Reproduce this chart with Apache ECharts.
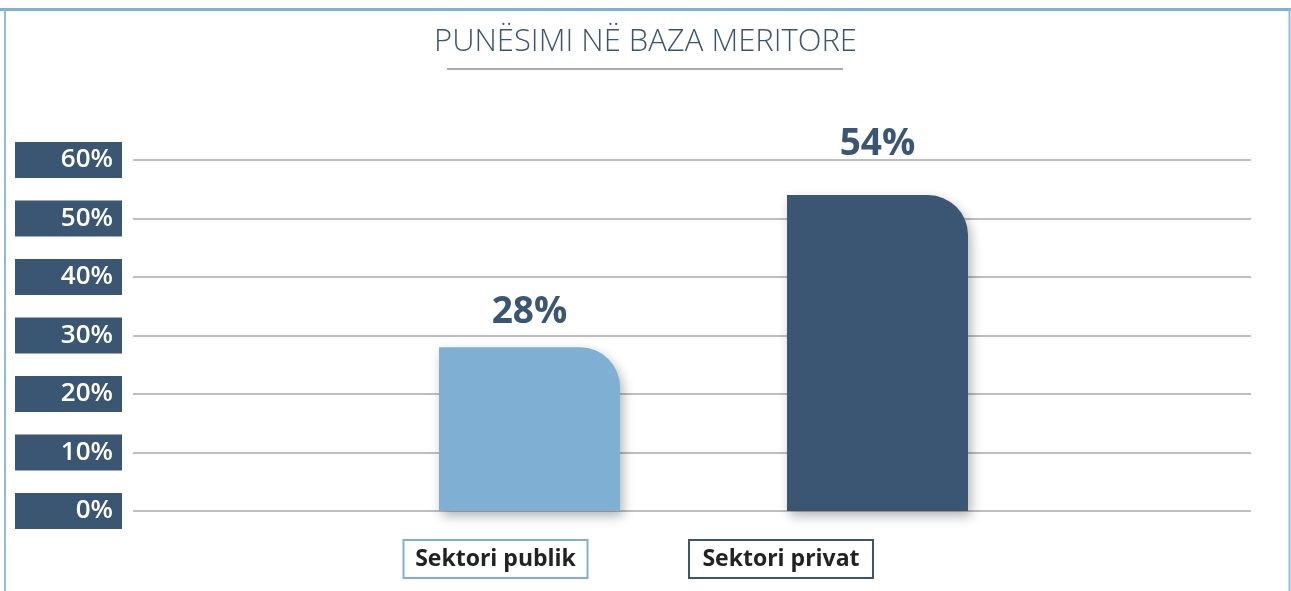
<!DOCTYPE html>
<html>
<head>
<meta charset="utf-8">
<script src="https://cdn.jsdelivr.net/npm/echarts@6/dist/echarts.min.js"></script>
<style>
    html, body { margin: 0; padding: 0; background: #fff; }
    #chart { width: 1291px; height: 591px; }
</style>
</head>
<body>
<div id="chart"></div>
<script>
const titleText = 'PUNËSIMI NË BAZA MERITORE'
const categories = ['Sektori publik', 'Sektori privat']
const values = [28, 54]
const barColors = ['#7fb0d3', '#3a5672']
const yTicks = [0, 10, 20, 30, 40, 50, 60]

const chart = echarts.init(document.getElementById('chart'))
const font = '"Open Sans", "Noto Sans", sans-serif'
const yMax = yTicks[yTicks.length - 1]
const yStep = yTicks[1] - yTicks[0]

chart.setOption({
    backgroundColor: '#fff',
    animation: false,
    title: {
        text: titleText,
        left: 'center',
        top: 22,
        textStyle: {
            fontFamily: font,
            fontWeight: 300,
            fontSize: 31,
            color: '#3a5672'
        }
    },
    graphic: [
        // frame
        { type: 'line', shape: { x1: 0, y1: 9.5, x2: 1291, y2: 9.5 }, style: { stroke: '#7fb0d3', lineWidth: 3 } },
        { type: 'line', shape: { x1: 5, y1: 9, x2: 5, y2: 591 }, style: { stroke: '#8dbbdc', lineWidth: 2 } },
        { type: 'line', shape: { x1: 1289.5, y1: 9, x2: 1289.5, y2: 591 }, style: { stroke: '#8dbbdc', lineWidth: 2 } },
        // title underline
        { type: 'line', shape: { x1: 447, y1: 69, x2: 843, y2: 69 }, style: { stroke: '#aaaaaa', lineWidth: 2 } }
    ],
    grid: [
        { left: 133, right: 40, top: 160, bottom: 80 },
        { left: 355.5, width: 696, top: 160, bottom: 80 },
        { left: 352.75, width: 571, top: 160, bottom: 80 }
    ],
    xAxis: [
        { gridIndex: 0, type: 'category', data: [''], show: false },
        { gridIndex: 1, type: 'category', data: categories, show: false },
        {
            gridIndex: 2,
            type: 'category',
            data: categories,
            axisLine: { show: false },
            axisTick: { show: false },
            axisLabel: {
                margin: 30,
                interval: 0,
                formatter: (v, i) => `{c${i}|${v}}`,
                rich: {
                    c0: {
                        fontFamily: font, fontWeight: 'bold', fontSize: 23, color: '#222',
                        width: 182, height: 36, lineHeight: 36, align: 'center',
                        borderColor: barColors[0], borderWidth: 2, backgroundColor: '#fff'
                    },
                    c1: {
                        fontFamily: font, fontWeight: 'bold', fontSize: 23, color: '#222',
                        width: 182, height: 36, lineHeight: 36, align: 'center',
                        borderColor: barColors[1], borderWidth: 2, backgroundColor: '#fff'
                    }
                }
            }
        }
    ],
    yAxis: [
        {
            gridIndex: 0,
            type: 'value',
            min: 0,
            max: yMax,
            interval: yStep,
            axisLine: { show: false },
            axisTick: { show: false },
            splitLine: { lineStyle: { color: '#a8a8a8', width: 1.5 } },
            axisLabel: {
                margin: 11,
                formatter: '{value}%',
                fontFamily: font,
                fontWeight: 600,
                fontSize: 26,
                color: '#fff',
                backgroundColor: '#3a5672',
                width: 98,
                height: 36,
                lineHeight: 36,
                align: 'right',
                padding: [0, 9, 0, 0]
            }
        },
        { gridIndex: 1, type: 'value', min: 0, max: yMax, show: false },
        { gridIndex: 2, type: 'value', min: 0, max: yMax, show: false }
    ],
    series: [
        {
            type: 'bar',
            xAxisIndex: 1,
            yAxisIndex: 1,
            barWidth: 181,
            data: values.map((v, i) => ({
                value: v,
                itemStyle: { color: barColors[i] },
                label: { distance: i === 0 ? 16 : 32 }
            })),
            itemStyle: {
                borderRadius: [0, 40, 0, 0],
                shadowBlur: 12,
                shadowColor: 'rgba(0,0,0,0.3)',
                shadowOffsetX: 3,
                shadowOffsetY: 5
            },
            label: {
                show: true,
                position: 'top',
                formatter: '{c}%',
                fontFamily: font,
                fontWeight: 'bold',
                fontSize: 37,
                color: '#3a5672'
            }
        }
    ]
})
</script>
</body>
</html>
